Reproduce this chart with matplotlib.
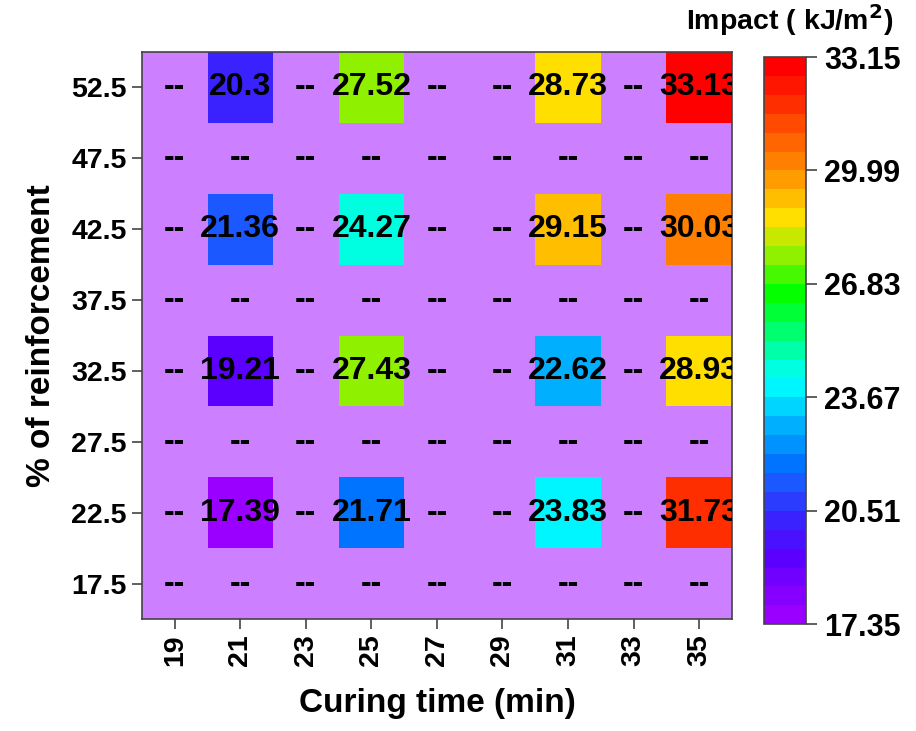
import numpy as np
import matplotlib
matplotlib.use("Agg")
import matplotlib.pyplot as plt
from matplotlib.colors import ListedColormap, BoundaryNorm, LinearSegmentedColormap

plt.rcParams['font.family'] = ['Liberation Sans', 'DejaVu Sans']
plt.rcParams['font.weight'] = 'bold'

# data
curing_time = [19, 21, 23, 25, 27, 29, 31, 33, 35]
reinforcement = [17.5, 22.5, 27.5, 32.5, 37.5, 42.5, 47.5, 52.5]
measured_time = [21, 25, 31, 35]
measured_reinf = [22.5, 32.5, 42.5, 52.5]
impact_22_5 = [17.39, 21.71, 23.83, 31.73]
impact_32_5 = [19.21, 27.43, 22.62, 28.93]
impact_42_5 = [21.36, 24.27, 29.15, 30.03]
impact_52_5 = [20.3, 27.52, 28.73, 33.13]
cbar_ticks = [17.35, 20.51, 23.67, 26.83, 29.99, 33.15]

impact_rows = [impact_22_5, impact_32_5, impact_42_5, impact_52_5]

# grid of cells, empty ones stay masked
Z = np.full((len(reinforcement), len(curing_time)), np.nan)
for r, row in zip(measured_reinf, impact_rows):
    for t, v in zip(measured_time, row):
        Z[reinforcement.index(r), curing_time.index(t)] = v
Z = np.ma.masked_invalid(Z)

x_edges = np.arange(18, 37, 2)
y_edges = np.arange(15, 56, 5)

# rainbow palette in 30 steps (anchor colours at band index)
nlev = 30
band_idx = [0, 3, 5, 7, 8, 10, 12, 13, 17, 19, 21, 22, 24, 27, 29]
band_col = ['#9900FF', '#5A00FF', '#3A22FF', '#1A5AFF', '#0075FF', '#00B0FF',
            '#00F8FF', '#00FFE0', '#00FF00', '#90F000', '#FFE000', '#FFC000',
            '#FF8000', '#FF3000', '#FF0000']
pos = [k / (nlev - 1) for k in band_idx]
base = LinearSegmentedColormap.from_list('rb', list(zip(pos, band_col)))
cmap = ListedColormap(base(np.linspace(0, 1, nlev)))
bounds = np.linspace(17.35, 33.15, nlev + 1)
norm = BoundaryNorm(bounds, cmap.N)

fig = plt.figure(figsize=(9.16, 7.31), dpi=100)
ax = fig.add_axes([0.155, 0.153, 0.644, 0.776])
ax.set_facecolor('#CC80FF')
mesh = ax.pcolormesh(x_edges, y_edges, Z, cmap=cmap, norm=norm)

for i, r in enumerate(reinforcement):
    for j, t in enumerate(curing_time):
        v = Z[i, j]
        label = '--' if np.ma.is_masked(v) else f'{v:g}'
        ax.text(t, r, label, ha='center', va='center', fontsize=23,
                fontweight='bold', clip_on=True)

ax.set_xlim(18, 36)
ax.set_ylim(15, 55)
ax.set_xticks(curing_time)
ax.set_yticks(reinforcement)
ax.set_xticklabels([str(t) for t in curing_time], rotation=90)
ax.set_yticklabels([f'{r}' for r in reinforcement])
ax.tick_params(labelsize=20.5, length=7, width=1.2, pad=4, color='#444444')
for s in ax.spines.values():
    s.set_color('#444444')
    s.set_linewidth(1.2)
ax.set_xlabel('Curing time (min)', fontsize=24, fontweight='bold', labelpad=16)
ax.set_ylabel('% of reinforcement', fontsize=24, fontweight='bold', labelpad=10)

cax = fig.add_axes([0.834, 0.146, 0.046, 0.776])
cb = fig.colorbar(mesh, cax=cax, ticks=cbar_ticks)
cb.ax.minorticks_off()
cb.ax.set_yticklabels([f'{t:.2f}' for t in cbar_ticks])
cb.ax.tick_params(labelsize=22, length=8, width=1.2, pad=5, color='#444444')
cb.outline.set_linewidth(1.2)
cb.outline.set_edgecolor('#444444')
fig.text(0.975, 0.948, 'Impact ( kJ/m$^\\mathbf{2}$)', ha='right', va='bottom',
         fontsize=20.5, fontweight='bold')

fig.savefig('out.png', dpi=100)
